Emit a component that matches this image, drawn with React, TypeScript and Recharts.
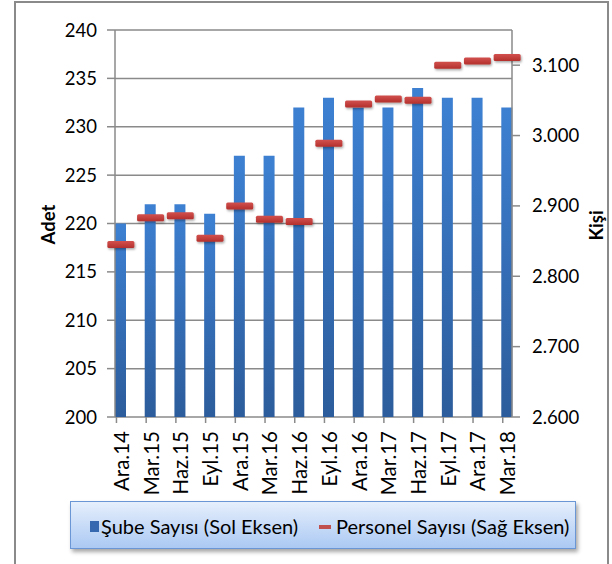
import React from 'react';
import { ComposedChart, Bar, Line, XAxis, YAxis, CartesianGrid, Legend } from 'recharts';

const categories = ['Ara.14', 'Mar.15', 'Haz.15', 'Eyl.15', 'Ara.15', 'Mar.16', 'Haz.16', 'Eyl.16', 'Ara.16', 'Mar.17', 'Haz.17', 'Eyl.17', 'Ara.17', 'Mar.18'];
const subeSayisi = [220, 222, 222, 221, 227, 227, 232, 233, 232, 232, 234, 233, 233, 232];
const personelSayisi = [2845, 2883, 2886, 2854, 2900, 2881, 2878, 2989, 3045, 3052, 3050, 3100, 3106, 3111];
const leftTicks = [200, 205, 210, 215, 220, 225, 230, 235, 240];
const rightTicks = [2600, 2700, 2800, 2900, 3000, 3100];
const seriesNames = ['Şube Sayısı (Sol Eksen)', 'Personel Sayısı (Sağ Eksen)'];

const data = categories.map((c, i) => ({ cat: c, sube: subeSayisi[i], personel: personelSayisi[i] }));

const FONT = 'Lato, "Open Sans", sans-serif';
const GRID = '#8a8a8a';

const XTick = (props: any) => {
  const { x, y, payload } = props;
  return (
    <g>
      <line x1={x - 4.4} x2={x - 4.4} y1={y - 8} y2={y - 2} stroke={GRID} strokeWidth={1.5} />
      <text
        x={x}
        y={y + 6}
        transform={`rotate(-90, ${x}, ${y + 6})`}
        textAnchor="end"
        dominantBaseline="central"
        fontFamily={FONT}
        fontSize={20.5}
        fill="#000"
      >
        {payload.value}
      </text>
    </g>
  );
};

const Dash = (props: any) => {
  const { cx, cy } = props;
  if (cx == null || cy == null) return null;
  return (
    <rect x={cx - 13.5} y={cy - 3.5} width={27} height={7} rx={1.5} fill="url(#redGrad)" filter="url(#dashShadow)" />
  );
};

const LegendBox = () => (
  <div
    style={{
      position: 'relative',
      width: '100%',
      height: '100%',
      boxSizing: 'border-box',
      border: '1.5px solid #6a96d6',
      background: 'linear-gradient(to bottom, #e6effc, #abc9f3)',
      boxShadow: '2px 3px 4px rgba(0,0,0,0.35)',
      fontFamily: FONT,
      fontSize: 20,
      color: '#000',
    }}
  >
    <div style={{ position: 'absolute', left: 19, top: 19, width: 9, height: 11, background: '#3568ae' }} />
    <div style={{ position: 'absolute', left: 30, top: 11, whiteSpace: 'nowrap', lineHeight: '26px' }}>{seriesNames[0]}</div>
    <div style={{ position: 'absolute', left: 248, top: 23, width: 12, height: 4, background: '#c0504d' }} />
    <div style={{ position: 'absolute', left: 265, top: 11, whiteSpace: 'nowrap', lineHeight: '26px' }}>{seriesNames[1]}</div>
  </div>
);

export default function App() {
  return (
    <div style={{ position: 'absolute', left: 0, top: 0, width: 612, height: 564, overflow: 'hidden', background: '#fff' }}>
      <div
        style={{
          position: 'absolute',
          left: 14,
          top: 1,
          width: 595,
          height: 620,
          boxSizing: 'border-box',
          border: '2px solid #8a8a8a',
        }}
      />
      <div style={{ position: 'absolute', left: 0, top: 0 }}>
        <ComposedChart
          width={612}
          height={564}
          data={data}
          margin={{ top: 30, right: 40, left: 55, bottom: 67 }}
        >
          <defs>
            <linearGradient id="barGrad" x1="0" y1="0" x2="0" y2="1">
              <stop offset="0%" stopColor="#3d80d2" />
              <stop offset="100%" stopColor="#2c5c9b" />
            </linearGradient>
            <linearGradient id="redGrad" x1="0" y1="0" x2="0" y2="1">
              <stop offset="0%" stopColor="#d2514e" />
              <stop offset="100%" stopColor="#b3302d" />
            </linearGradient>
            <filter id="dashShadow" x="-30%" y="-80%" width="160%" height="260%">
              <feDropShadow dx="1" dy="1.5" stdDeviation="1.2" floodColor="#000" floodOpacity="0.35" />
            </filter>
          </defs>
          <CartesianGrid vertical={false} stroke={GRID} strokeWidth={1.5} yAxisId="left" />
          <XAxis
            dataKey="cat"
            height={80}
            padding={{ left: -9, right: -10 }}
            axisLine={false}
            tickLine={false}
            tick={<XTick />}
            interval={0}
          />
          <YAxis
            yAxisId="left"
            orientation="left"
            width={60}
            domain={[200, 240]}
            ticks={leftTicks}
            interval={0}
            allowDataOverflow
            stroke={GRID}
            axisLine={{ stroke: GRID, strokeWidth: 1.5 }}
            tickLine={{ stroke: GRID, strokeWidth: 1.5 }}
            tickSize={8}
            tickMargin={10}
            tick={{ fill: '#000', fontSize: 18.5, fontFamily: FONT }}
            label={(p: any) => {
              const vb = p.viewBox;
              const cx = vb.x - 7;
              const cy = vb.y + vb.height / 2 + 1;
              return (
                <text x={cx} y={cy} transform={`rotate(-90, ${cx}, ${cy})`} textAnchor="middle" dominantBaseline="central" fontFamily={FONT} fontWeight="bold" fontSize={18.5} fill="#000">
                  Adet
                </text>
              );
            }}
          />
          <YAxis
            yAxisId="right"
            orientation="right"
            width={60}
            domain={[2600, 3150]}
            ticks={rightTicks}
            interval={0}
            allowDataOverflow
            axisLine={{ stroke: GRID, strokeWidth: 1.5 }}
            tickLine={{ stroke: GRID, strokeWidth: 1.5 }}
            tickSize={8}
            tickMargin={12}
            tickFormatter={(v: number) => (v / 1000).toFixed(3)}
            tick={{ fill: '#000', fontSize: 18.5, fontFamily: FONT }}
            label={(p: any) => {
              const vb = p.viewBox;
              const cx = vb.x + 84;
              const cy = vb.y + vb.height / 2 + 2;
              return (
                <text x={cx} y={cy} transform={`rotate(-90, ${cx}, ${cy})`} textAnchor="middle" dominantBaseline="central" fontFamily={FONT} fontWeight="bold" fontSize={18.5} fill="#000">
                  Kişi
                </text>
              );
            }}
          />
          <Bar yAxisId="left" dataKey="sube" name={seriesNames[0]} barSize={11} fill="url(#barGrad)" isAnimationActive={false} />
          <Line
            yAxisId="right"
            dataKey="personel"
            name={seriesNames[1]}
            stroke="none"
            dot={<Dash />}
            activeDot={false}
            isAnimationActive={false}
          />
          <Legend
            layout="horizontal"
            verticalAlign="middle"
            align="center"
            content={<LegendBox />}
            wrapperStyle={{ left: 70, top: 501, width: 506, height: 48, right: 'auto', bottom: 'auto' }}
          />
        </ComposedChart>
      </div>
    </div>
  );
}
